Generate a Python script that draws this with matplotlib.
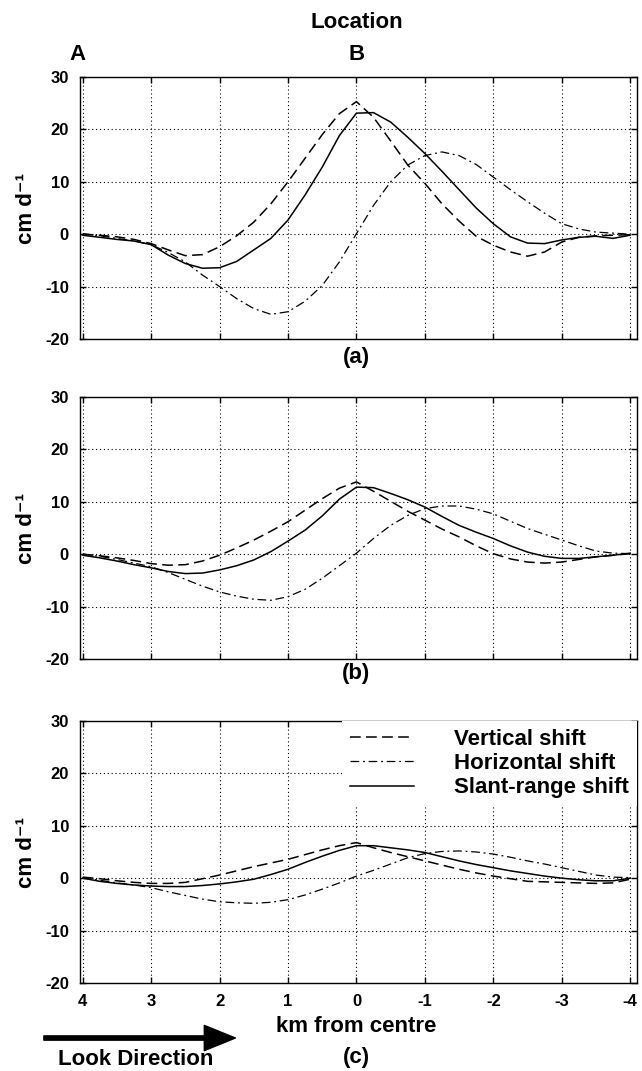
import numpy as np
import matplotlib
matplotlib.use("Agg")
import matplotlib.pyplot as plt
from matplotlib.patches import FancyArrowPatch

# --- velocity profiles across the feature (km from centre vs cm/day) ---

km = [4, 3.75, 3.5, 3.25, 3, 2.75, 2.5, 2.25, 2, 1.75, 1.5, 1.25, 1, 0.75, 0.5, 0.25, 0,
      -0.25, -0.5, -0.75, -1, -1.25, -1.5, -1.75, -2, -2.25, -2.5, -2.75, -3, -3.25, -3.5, -3.75, -4]

# panel (a)
vert_a = [0, -0.2, -0.5, -1.0, -1.8, -3.0, -4.1, -3.9, -2.4, -0.3, 2.3, 5.8, 10, 14.5, 19, 23, 25.3,
          22.3, 17.8, 13.2, 9.7, 5.8, 2.5, -0.4, -2.1, -3.4, -4.2, -3.4, -1.5, -0.6, -0.3, -0.2, -0.1]
horiz_a = [0.1, -0.3, -0.8, -1.3, -2.0, -3.5, -5.3, -7.8, -10, -12.3, -14.2, -15.3, -14.8, -12.8, -9.8, -5.3, 0.1,
           5.5, 10, 13.2, 15, 15.7, 15, 13.3, 10.9, 8.5, 6.2, 4, 2, 1, 0.4, 0.2, 0]
slant_a = [-0.2, -0.6, -1.0, -1.3, -2.0, -4.0, -5.6, -6.5, -6.4, -5.2, -3.0, -0.8, 2.7, 7.5, 12.8, 18.8, 23.1,
           23.2, 21.4, 18.5, 15.4, 12, 8.5, 5, 2, -0.5, -1.7, -1.8, -1.1, -0.6, -0.4, -0.8, -0.2]

# panel (b)
vert_b = [0, -0.3, -0.7, -1.2, -1.8, -2.1, -2.0, -1.3, -0.2, 1.2, 2.7, 4.4, 6.2, 8.4, 10.6, 12.6, 13.8,
          12, 10.1, 8.2, 6.5, 4.8, 3.3, 1.6, 0.1, -0.9, -1.5, -1.7, -1.5, -1.0, -0.5, -0.2, 0.1]
horiz_b = [0, -0.4, -1.0, -1.7, -2.4, -3.5, -4.8, -6.1, -7.2, -8.0, -8.6, -8.8, -8.1, -6.7, -4.6, -2.2, 0.2,
           3.0, 5.5, 7.4, 8.7, 9.2, 9.2, 8.6, 7.7, 6.3, 4.9, 3.8, 2.7, 1.6, 0.6, 0.2, 0.1]
slant_b = [-0.2, -0.7, -1.3, -2.0, -2.6, -3.3, -3.7, -3.6, -3.0, -2.2, -1.1, 0.5, 2.5, 4.6, 7.3, 10.5, 12.8,
           12.7, 11.6, 10.4, 9, 7.2, 5.5, 4.2, 3, 1.6, 0.4, -0.4, -0.8, -0.8, -0.5, -0.2, 0.2]

# panel (c)
vert_c = [0.2, -0.1, -0.5, -0.8, -1.0, -1.0, -0.8, -0.1, 0.6, 1.4, 2.2, 2.9, 3.6, 4.5, 5.4, 6.2, 6.8,
          5.8, 4.9, 4.1, 3.3, 2.5, 1.7, 1.0, 0.4, -0.1, -0.6, -0.7, -0.8, -0.9, -1.0, -0.9, -0.2]
horiz_c = [0.1, -0.4, -0.9, -1.3, -1.8, -2.6, -3.3, -4.0, -4.5, -4.7, -4.8, -4.6, -4.1, -3.2, -2.1, -0.9, 0.4,
           1.5, 2.7, 3.9, 4.7, 5.1, 5.2, 5.0, 4.6, 4.0, 3.3, 2.7, 2.0, 1.3, 0.6, 0.2, 0.1]
slant_c = [0, -0.6, -1.0, -1.3, -1.5, -1.6, -1.6, -1.4, -1.1, -0.7, -0.2, 0.7, 1.7, 3.0, 4.2, 5.3, 6.2,
           6.2, 5.8, 5.4, 4.9, 4.1, 3.3, 2.6, 2.0, 1.4, 0.9, 0.4, 0, -0.3, -0.5, -0.5, 0]

panels = [(vert_a, horiz_a, slant_a, "(a)", -0.069),
          (vert_b, horiz_b, slant_b, "(b)", -0.054),
          (vert_c, horiz_c, slant_c, "(c)", -0.286)]

x_ticks = [4, 3, 2, 1, 0, -1, -2, -3, -4]
x_tick_labels = ["4", "3", "2", "1", "0", "-1", "-2", "-3", "-4"]
y_ticks = [-20, -10, 0, 10, 20, 30]

plt.rcParams['font.family'] = ['Liberation Sans', 'DejaVu Sans']
plt.rcParams['font.weight'] = 'bold'
plt.rcParams['axes.labelweight'] = 'bold'
plt.rcParams['axes.unicode_minus'] = False

BIG = 16
TICK = 12
DASH = (7, 3.5)
DASHDOT = (7, 3, 1.5, 3)

fig = plt.figure(figsize=(6.42, 10.71), dpi=100)
bottoms = [0.6835, 0.3847, 0.0822]
axes = []

for (v, h, s, tag, tag_y), b in zip(panels, bottoms):
    ax = fig.add_axes([0.1246, b, 0.8676, 0.2446])
    ax.plot(km, v, color='black', lw=1.1, dashes=DASH, label='Vertical shift')
    ax.plot(km, h, color='black', lw=0.9, dashes=DASHDOT, label='Horizontal shift')
    ax.plot(km, s, color='black', lw=1.1, label='Slant-range shift')

    ax.set_xlim(4.04, -4.1)
    ax.set_ylim(-20, 30)
    ax.set_xticks(x_ticks)
    ax.set_yticks(y_ticks)
    ax.grid(True, color='black', linestyle=(0, (1, 2.5)), linewidth=0.8)
    ax.tick_params(direction='in', top=True, right=True, length=4, width=1,
                   labelsize=TICK, pad=8)
    for sp in ax.spines.values():
        sp.set_linewidth(1.0)
    ax.set_ylabel('cm d\u207b\u00b9', fontsize=BIG, fontweight='bold', labelpad=6)

    if tag == "(c)":
        ax.set_xticklabels(x_tick_labels)
        ax.text(0, -0.168, 'km from centre', transform=ax.get_xaxis_transform(),
                ha='center', va='center', fontsize=BIG)
    else:
        ax.set_xticklabels([])
    ax.text(0, tag_y, tag, transform=ax.get_xaxis_transform(),
            ha='center', va='center', fontsize=BIG)
    axes.append(ax)

# location markers over the top panel
ax = axes[0]
ax.text(0, 1.207, 'Location', transform=ax.get_xaxis_transform(), ha='center', va='center', fontsize=BIG)
ax.text(4.08, 1.084, 'A', transform=ax.get_xaxis_transform(), ha='center', va='center', fontsize=BIG)
ax.text(0, 1.084, 'B', transform=ax.get_xaxis_transform(), ha='center', va='center', fontsize=BIG)

# legend in the bottom panel
leg = axes[2].legend(loc='upper right', bbox_to_anchor=(1, 1), borderaxespad=0, borderpad=0.35,
                     fontsize=BIG, handlelength=2.9, handletextpad=1.8, labelspacing=0.15,
                     frameon=True, fancybox=False, framealpha=1)
leg.get_frame().set_edgecolor('none')
leg.get_frame().set_facecolor('white')

# look direction arrow
arrow = FancyArrowPatch((0.064, 0.0308), (0.371, 0.0308), transform=fig.transFigure,
                        arrowstyle='simple,head_length=1.6,head_width=1.3,tail_width=0.22',
                        mutation_scale=14, color='black')
fig.patches.append(arrow)
fig.text(0.090, 0.0105, 'Look Direction', ha='left', va='center', fontsize=BIG)

plt.savefig('out.png', dpi=100)
